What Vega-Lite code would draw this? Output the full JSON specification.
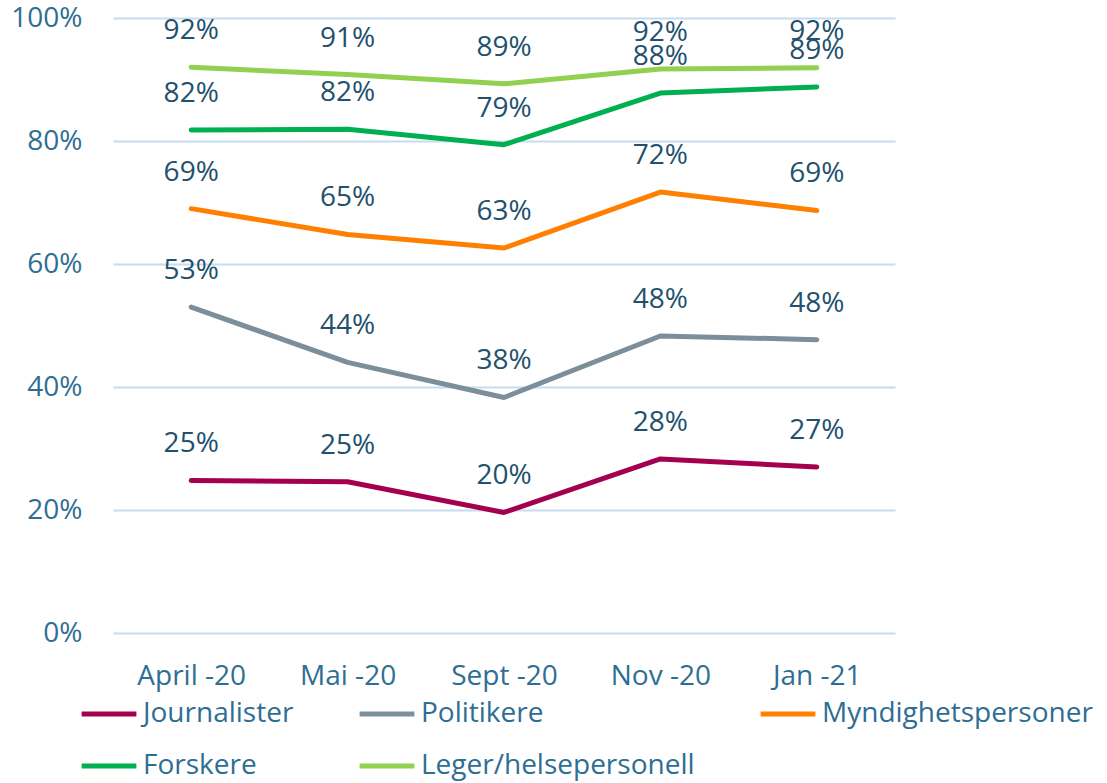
{
  "$schema": "https://vega.github.io/schema/vega-lite/v6.json",
  "width": 782,
  "height": 615,
  "autosize": {"type": "none"},
  "padding": {"left": 113, "top": 18, "right": 212, "bottom": 150},
  "background": "white",
  "config": {
    "view": {"stroke": null},
    "font": "Open Sans"
  },
  "data": {
    "values": [
      {"month": "April -20", "series": "Journalister", "value": 0.248},
      {"month": "Mai -20", "series": "Journalister", "value": 0.246},
      {"month": "Sept -20", "series": "Journalister", "value": 0.196},
      {"month": "Nov -20", "series": "Journalister", "value": 0.283},
      {"month": "Jan -21", "series": "Journalister", "value": 0.27},
      {"month": "April -20", "series": "Politikere", "value": 0.53},
      {"month": "Mai -20", "series": "Politikere", "value": 0.44},
      {"month": "Sept -20", "series": "Politikere", "value": 0.383},
      {"month": "Nov -20", "series": "Politikere", "value": 0.483},
      {"month": "Jan -21", "series": "Politikere", "value": 0.477},
      {"month": "April -20", "series": "Myndighetspersoner", "value": 0.69},
      {"month": "Mai -20", "series": "Myndighetspersoner", "value": 0.648},
      {"month": "Sept -20", "series": "Myndighetspersoner", "value": 0.626},
      {"month": "Nov -20", "series": "Myndighetspersoner", "value": 0.717},
      {"month": "Jan -21", "series": "Myndighetspersoner", "value": 0.687},
      {"month": "April -20", "series": "Forskere", "value": 0.818},
      {"month": "Mai -20", "series": "Forskere", "value": 0.819},
      {"month": "Sept -20", "series": "Forskere", "value": 0.794},
      {"month": "Nov -20", "series": "Forskere", "value": 0.878},
      {"month": "Jan -21", "series": "Forskere", "value": 0.888},
      {"month": "April -20", "series": "Leger/helsepersonell", "value": 0.92},
      {"month": "Mai -20", "series": "Leger/helsepersonell", "value": 0.908},
      {"month": "Sept -20", "series": "Leger/helsepersonell", "value": 0.893},
      {"month": "Nov -20", "series": "Leger/helsepersonell", "value": 0.917},
      {"month": "Jan -21", "series": "Leger/helsepersonell", "value": 0.919}
    ]
  },
  "encoding": {
    "x": {
      "field": "month",
      "type": "nominal",
      "sort": ["April -20", "Mai -20", "Sept -20", "Nov -20", "Jan -21"],
      "scale": {"type": "point", "padding": 0.5},
      "axis": {
        "title": null,
        "domain": false,
        "ticks": false,
        "grid": false,
        "labelAngle": 0,
        "labelFontSize": 28,
        "labelColor": "#2e6e93",
        "labelPadding": 29
      }
    },
    "y": {
      "field": "value",
      "type": "quantitative",
      "scale": {"domain": [0, 1], "nice": false},
      "axis": {
        "title": null,
        "domain": false,
        "ticks": false,
        "values": [0, 0.2, 0.4, 0.6, 0.8, 1],
        "format": ".0%",
        "labelFontSize": 28,
        "labelColor": "#2e6e93",
        "labelPadding": 31,
        "gridColor": "#c6dcef",
        "gridWidth": 2
      }
    },
    "color": {
      "field": "series",
      "type": "nominal",
      "scale": {
        "domain": ["Journalister", "Politikere", "Myndighetspersoner", "Forskere", "Leger/helsepersonell"],
        "range": ["#a50050", "#7b8e9a", "#ff8000", "#00b050", "#92d050"]
      },
      "legend": {
        "title": null,
        "orient": "none",
        "legendX": -34,
        "legendY": 666,
        "direction": "horizontal",
        "columns": 3,
        "columnPadding": 55,
        "rowPadding": 8,
        "symbolType": "stroke",
        "symbolSize": 3000,
        "symbolStrokeWidth": 5,
        "labelFontSize": 28,
        "labelColor": "#2e6e93",
        "labelOffset": 4,
        "labelLimit": 400
      }
    }
  },
  "layer": [
    {
      "mark": {"type": "line", "strokeWidth": 5, "strokeCap": "round", "strokeJoin": "round"}
    },
    {
      "mark": {"type": "text", "dy": -36, "fontSize": 28, "baseline": "middle"},
      "encoding": {
        "text": {"field": "value", "type": "quantitative", "format": ".0%"},
        "color": {"value": "#22506d"}
      }
    }
  ]
}
